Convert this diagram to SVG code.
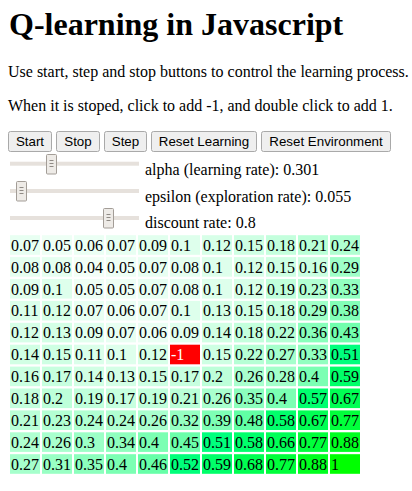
<svg xmlns="http://www.w3.org/2000/svg" width="412" height="491" viewBox="0 0 412 491">
<style>
text{font-family:"Liberation Serif","Times New Roman",serif;fill:#000}
.h1{font-size:32px;font-weight:bold}
.p{font-size:16px}
.btn rect{fill:#efefef;stroke:#a9a9a9;stroke-width:1}
.btn text{font-family:"Liberation Sans",Arial,sans-serif;font-size:13.33px;text-anchor:middle}
.track{fill:#e6e1dc}
.thumb{fill:#eeebe7;stroke:#a39d97;stroke-width:1}
.grip{stroke:#8f8a85;stroke-width:1}
.c text{font-size:16px}
.w{fill:#fff}
</style>
<rect width="412" height="491" fill="#fff"/>
<g id="header">
<text class="h1" x="9" y="35">Q-learning in Javascript</text>
<text class="p" x="8" y="77">Use start, step and stop buttons to control the learning process.</text>
<text class="p" x="8" y="111">When it is stoped, click to add -1, and double click to add 1.</text>
</g>
<g id="buttons" class="btn">
<g id="btn-start"><rect x="8.5" y="131.5" width="43" height="20" rx="2"/><text x="30" y="146">Start</text></g>
<g id="btn-stop"><rect x="56.5" y="131.5" width="43" height="20" rx="2"/><text x="78" y="146">Stop</text></g>
<g id="btn-step"><rect x="104.5" y="131.5" width="42" height="20" rx="2"/><text x="125.5" y="146">Step</text></g>
<g id="btn-reset-learning"><rect x="151.5" y="131.5" width="105" height="20" rx="2"/><text x="204" y="146">Reset Learning</text></g>
<g id="btn-reset-env"><rect x="261.5" y="131.5" width="129" height="20" rx="2"/><text x="326" y="146">Reset Environment</text></g>
</g>
<g id="sliders">
<g id="slider-alpha">
<rect class="track" x="10" y="161.7" width="129" height="4"/>
<rect class="thumb" x="46.5" y="154.5" width="10" height="19.5" rx="1"/>
<path class="grip" d="M49.5 160.5h4M49.5 163.5h4M49.5 166.5h4"/>
<text class="p" x="145" y="175">alpha (learning rate): 0.301</text>
</g>
<g id="slider-epsilon">
<rect class="track" x="10" y="189" width="129" height="4"/>
<rect class="thumb" x="16.5" y="181.5" width="10" height="19.5" rx="1"/>
<path class="grip" d="M19.5 187.5h4M19.5 190.5h4M19.5 193.5h4"/>
<text class="p" x="145" y="201.7">epsilon (exploration rate): 0.055</text>
</g>
<g id="slider-discount">
<rect class="track" x="10" y="216" width="129" height="4"/>
<rect class="thumb" x="103.5" y="208.5" width="10" height="19.5" rx="1"/>
<path class="grip" d="M106.5 214.5h4M106.5 217.5h4M106.5 220.5h4"/>
<text class="p" x="145" y="228.3">discount rate: 0.8</text>
</g>
</g>
<g id="grid" class="c">
<g transform="translate(0,235.2)">
<rect x="10" width="30" height="19.6" fill="#e8fff2"/><text x="11" y="15.5">0.07</text>
<rect x="42" width="30" height="19.6" fill="#eefff5"/><text x="43" y="15.5">0.05</text>
<rect x="74" width="30" height="19.6" fill="#ebfff4"/><text x="75" y="15.5">0.06</text>
<rect x="106" width="30" height="19.6" fill="#e8fff2"/><text x="107" y="15.5">0.07</text>
<rect x="138" width="30" height="19.6" fill="#e1ffee"/><text x="139" y="15.5">0.09</text>
<rect x="170" width="30" height="19.6" fill="#deffec"/><text x="171" y="15.5">0.1</text>
<rect x="202" width="30" height="19.6" fill="#d7ffe8"/><text x="203" y="15.5">0.12</text>
<rect x="234" width="30" height="19.6" fill="#ceffe3"/><text x="235" y="15.5">0.15</text>
<rect x="266" width="30" height="19.6" fill="#c4ffdd"/><text x="267" y="15.5">0.18</text>
<rect x="298" width="30" height="19.6" fill="#baffd7"/><text x="299" y="15.5">0.21</text>
<rect x="330" width="30" height="19.6" fill="#b0ffd1"/><text x="331" y="15.5">0.24</text>
</g>
<g transform="translate(0,257.1)">
<rect x="10" width="30" height="19.6" fill="#e5fff0"/><text x="11" y="15.5">0.08</text>
<rect x="42" width="30" height="19.6" fill="#e5fff0"/><text x="43" y="15.5">0.08</text>
<rect x="74" width="30" height="19.6" fill="#f2fff7"/><text x="75" y="15.5">0.04</text>
<rect x="106" width="30" height="19.6" fill="#eefff5"/><text x="107" y="15.5">0.05</text>
<rect x="138" width="30" height="19.6" fill="#e8fff2"/><text x="139" y="15.5">0.07</text>
<rect x="170" width="30" height="19.6" fill="#e5fff0"/><text x="171" y="15.5">0.08</text>
<rect x="202" width="30" height="19.6" fill="#deffec"/><text x="203" y="15.5">0.1</text>
<rect x="234" width="30" height="19.6" fill="#d7ffe8"/><text x="235" y="15.5">0.12</text>
<rect x="266" width="30" height="19.6" fill="#ceffe3"/><text x="267" y="15.5">0.15</text>
<rect x="298" width="30" height="19.6" fill="#caffe1"/><text x="299" y="15.5">0.16</text>
<rect x="330" width="30" height="19.6" fill="#9fffc8"/><text x="331" y="15.5">0.29</text>
</g>
<g transform="translate(0,279.0)">
<rect x="10" width="30" height="19.6" fill="#e1ffee"/><text x="11" y="15.5">0.09</text>
<rect x="42" width="30" height="19.6" fill="#deffec"/><text x="43" y="15.5">0.1</text>
<rect x="74" width="30" height="19.6" fill="#eefff5"/><text x="75" y="15.5">0.05</text>
<rect x="106" width="30" height="19.6" fill="#eefff5"/><text x="107" y="15.5">0.05</text>
<rect x="138" width="30" height="19.6" fill="#e8fff2"/><text x="139" y="15.5">0.07</text>
<rect x="170" width="30" height="19.6" fill="#e5fff0"/><text x="171" y="15.5">0.08</text>
<rect x="202" width="30" height="19.6" fill="#deffec"/><text x="203" y="15.5">0.1</text>
<rect x="234" width="30" height="19.6" fill="#d7ffe8"/><text x="235" y="15.5">0.12</text>
<rect x="266" width="30" height="19.6" fill="#c0ffdb"/><text x="267" y="15.5">0.19</text>
<rect x="298" width="30" height="19.6" fill="#b3ffd3"/><text x="299" y="15.5">0.23</text>
<rect x="330" width="30" height="19.6" fill="#92ffc0"/><text x="331" y="15.5">0.33</text>
</g>
<g transform="translate(0,300.9)">
<rect x="10" width="30" height="19.6" fill="#dbffea"/><text x="11" y="15.5">0.11</text>
<rect x="42" width="30" height="19.6" fill="#d7ffe8"/><text x="43" y="15.5">0.12</text>
<rect x="74" width="30" height="19.6" fill="#e8fff2"/><text x="75" y="15.5">0.07</text>
<rect x="106" width="30" height="19.6" fill="#ebfff4"/><text x="107" y="15.5">0.06</text>
<rect x="138" width="30" height="19.6" fill="#e8fff2"/><text x="139" y="15.5">0.07</text>
<rect x="170" width="30" height="19.6" fill="#deffec"/><text x="171" y="15.5">0.1</text>
<rect x="202" width="30" height="19.6" fill="#d4ffe6"/><text x="203" y="15.5">0.13</text>
<rect x="234" width="30" height="19.6" fill="#ceffe3"/><text x="235" y="15.5">0.15</text>
<rect x="266" width="30" height="19.6" fill="#c4ffdd"/><text x="267" y="15.5">0.18</text>
<rect x="298" width="30" height="19.6" fill="#9fffc8"/><text x="299" y="15.5">0.29</text>
<rect x="330" width="30" height="19.6" fill="#82ffb7"/><text x="331" y="15.5">0.38</text>
</g>
<g transform="translate(0,322.8)">
<rect x="10" width="30" height="19.6" fill="#d7ffe8"/><text x="11" y="15.5">0.12</text>
<rect x="42" width="30" height="19.6" fill="#d4ffe6"/><text x="43" y="15.5">0.13</text>
<rect x="74" width="30" height="19.6" fill="#e1ffee"/><text x="75" y="15.5">0.09</text>
<rect x="106" width="30" height="19.6" fill="#e8fff2"/><text x="107" y="15.5">0.07</text>
<rect x="138" width="30" height="19.6" fill="#ebfff4"/><text x="139" y="15.5">0.06</text>
<rect x="170" width="30" height="19.6" fill="#e1ffee"/><text x="171" y="15.5">0.09</text>
<rect x="202" width="30" height="19.6" fill="#d1ffe4"/><text x="203" y="15.5">0.14</text>
<rect x="234" width="30" height="19.6" fill="#c4ffdd"/><text x="235" y="15.5">0.18</text>
<rect x="266" width="30" height="19.6" fill="#b6ffd5"/><text x="267" y="15.5">0.22</text>
<rect x="298" width="30" height="19.6" fill="#88ffbb"/><text x="299" y="15.5">0.36</text>
<rect x="330" width="30" height="19.6" fill="#71ffad"/><text x="331" y="15.5">0.43</text>
</g>
<g transform="translate(0,344.7)">
<rect x="10" width="30" height="19.6" fill="#d1ffe4"/><text x="11" y="15.5">0.14</text>
<rect x="42" width="30" height="19.6" fill="#ceffe3"/><text x="43" y="15.5">0.15</text>
<rect x="74" width="30" height="19.6" fill="#dbffea"/><text x="75" y="15.5">0.11</text>
<rect x="106" width="30" height="19.6" fill="#deffec"/><text x="107" y="15.5">0.1</text>
<rect x="138" width="30" height="19.6" fill="#d7ffe8"/><text x="139" y="15.5">0.12</text>
<rect x="170" width="30" height="19.6" fill="#ff0000"/><text class="w" x="171" y="15.5">-1</text>
<rect x="202" width="30" height="19.6" fill="#ceffe3"/><text x="203" y="15.5">0.15</text>
<rect x="234" width="30" height="19.6" fill="#b6ffd5"/><text x="235" y="15.5">0.22</text>
<rect x="266" width="30" height="19.6" fill="#a6ffcc"/><text x="267" y="15.5">0.27</text>
<rect x="298" width="30" height="19.6" fill="#92ffc0"/><text x="299" y="15.5">0.33</text>
<rect x="330" width="30" height="19.6" fill="#00ff7d"/><text x="331" y="15.5">0.51</text>
</g>
<g transform="translate(0,366.6)">
<rect x="10" width="30" height="19.6" fill="#caffe1"/><text x="11" y="15.5">0.16</text>
<rect x="42" width="30" height="19.6" fill="#c7ffdf"/><text x="43" y="15.5">0.17</text>
<rect x="74" width="30" height="19.6" fill="#d1ffe4"/><text x="75" y="15.5">0.14</text>
<rect x="106" width="30" height="19.6" fill="#d4ffe6"/><text x="107" y="15.5">0.13</text>
<rect x="138" width="30" height="19.6" fill="#ceffe3"/><text x="139" y="15.5">0.15</text>
<rect x="170" width="30" height="19.6" fill="#c7ffdf"/><text x="171" y="15.5">0.17</text>
<rect x="202" width="30" height="19.6" fill="#bdffd9"/><text x="203" y="15.5">0.2</text>
<rect x="234" width="30" height="19.6" fill="#a9ffce"/><text x="235" y="15.5">0.26</text>
<rect x="266" width="30" height="19.6" fill="#a3ffca"/><text x="267" y="15.5">0.28</text>
<rect x="298" width="30" height="19.6" fill="#7bffb3"/><text x="299" y="15.5">0.4</text>
<rect x="330" width="30" height="19.6" fill="#00ff69"/><text x="331" y="15.5">0.59</text>
</g>
<g transform="translate(0,388.5)">
<rect x="10" width="30" height="19.6" fill="#c4ffdd"/><text x="11" y="15.5">0.18</text>
<rect x="42" width="30" height="19.6" fill="#bdffd9"/><text x="43" y="15.5">0.2</text>
<rect x="74" width="30" height="19.6" fill="#c0ffdb"/><text x="75" y="15.5">0.19</text>
<rect x="106" width="30" height="19.6" fill="#c7ffdf"/><text x="107" y="15.5">0.17</text>
<rect x="138" width="30" height="19.6" fill="#c0ffdb"/><text x="139" y="15.5">0.19</text>
<rect x="170" width="30" height="19.6" fill="#baffd7"/><text x="171" y="15.5">0.21</text>
<rect x="202" width="30" height="19.6" fill="#a9ffce"/><text x="203" y="15.5">0.26</text>
<rect x="234" width="30" height="19.6" fill="#8cffbd"/><text x="235" y="15.5">0.35</text>
<rect x="266" width="30" height="19.6" fill="#7bffb3"/><text x="267" y="15.5">0.4</text>
<rect x="298" width="30" height="19.6" fill="#00ff6e"/><text x="299" y="15.5">0.57</text>
<rect x="330" width="30" height="19.6" fill="#00ff54"/><text x="331" y="15.5">0.67</text>
</g>
<g transform="translate(0,410.4)">
<rect x="10" width="30" height="19.6" fill="#baffd7"/><text x="11" y="15.5">0.21</text>
<rect x="42" width="30" height="19.6" fill="#b3ffd3"/><text x="43" y="15.5">0.23</text>
<rect x="74" width="30" height="19.6" fill="#b0ffd1"/><text x="75" y="15.5">0.24</text>
<rect x="106" width="30" height="19.6" fill="#b0ffd1"/><text x="107" y="15.5">0.24</text>
<rect x="138" width="30" height="19.6" fill="#a9ffce"/><text x="139" y="15.5">0.26</text>
<rect x="170" width="30" height="19.6" fill="#95ffc2"/><text x="171" y="15.5">0.32</text>
<rect x="202" width="30" height="19.6" fill="#7effb5"/><text x="203" y="15.5">0.39</text>
<rect x="234" width="30" height="19.6" fill="#61ffa4"/><text x="235" y="15.5">0.48</text>
<rect x="266" width="30" height="19.6" fill="#00ff6b"/><text x="267" y="15.5">0.58</text>
<rect x="298" width="30" height="19.6" fill="#00ff54"/><text x="299" y="15.5">0.67</text>
<rect x="330" width="30" height="19.6" fill="#00ff3b"/><text x="331" y="15.5">0.77</text>
</g>
<g transform="translate(0,432.3)">
<rect x="10" width="30" height="19.6" fill="#b0ffd1"/><text x="11" y="15.5">0.24</text>
<rect x="42" width="30" height="19.6" fill="#a9ffce"/><text x="43" y="15.5">0.26</text>
<rect x="74" width="30" height="19.6" fill="#9cffc6"/><text x="75" y="15.5">0.3</text>
<rect x="106" width="30" height="19.6" fill="#8fffbe"/><text x="107" y="15.5">0.34</text>
<rect x="138" width="30" height="19.6" fill="#7bffb3"/><text x="139" y="15.5">0.4</text>
<rect x="170" width="30" height="19.6" fill="#6bffaa"/><text x="171" y="15.5">0.45</text>
<rect x="202" width="30" height="19.6" fill="#00ff7d"/><text x="203" y="15.5">0.51</text>
<rect x="234" width="30" height="19.6" fill="#00ff6b"/><text x="235" y="15.5">0.58</text>
<rect x="266" width="30" height="19.6" fill="#00ff57"/><text x="267" y="15.5">0.66</text>
<rect x="298" width="30" height="19.6" fill="#00ff3b"/><text x="299" y="15.5">0.77</text>
<rect x="330" width="30" height="19.6" fill="#00ff1f"/><text x="331" y="15.5">0.88</text>
</g>
<g transform="translate(0,454.2)">
<rect x="10" width="30" height="19.6" fill="#a6ffcc"/><text x="11" y="15.5">0.27</text>
<rect x="42" width="30" height="19.6" fill="#99ffc4"/><text x="43" y="15.5">0.31</text>
<rect x="74" width="30" height="19.6" fill="#8cffbd"/><text x="75" y="15.5">0.35</text>
<rect x="106" width="30" height="19.6" fill="#7bffb3"/><text x="107" y="15.5">0.4</text>
<rect x="138" width="30" height="19.6" fill="#67ffa8"/><text x="139" y="15.5">0.46</text>
<rect x="170" width="30" height="19.6" fill="#00ff7a"/><text x="171" y="15.5">0.52</text>
<rect x="202" width="30" height="19.6" fill="#00ff69"/><text x="203" y="15.5">0.59</text>
<rect x="234" width="30" height="19.6" fill="#00ff52"/><text x="235" y="15.5">0.68</text>
<rect x="266" width="30" height="19.6" fill="#00ff3b"/><text x="267" y="15.5">0.77</text>
<rect x="298" width="30" height="19.6" fill="#00ff1f"/><text x="299" y="15.5">0.88</text>
<rect x="330" width="30" height="19.6" fill="#00ff00"/><text x="331" y="15.5">1</text>
</g>
</g>
</svg>
